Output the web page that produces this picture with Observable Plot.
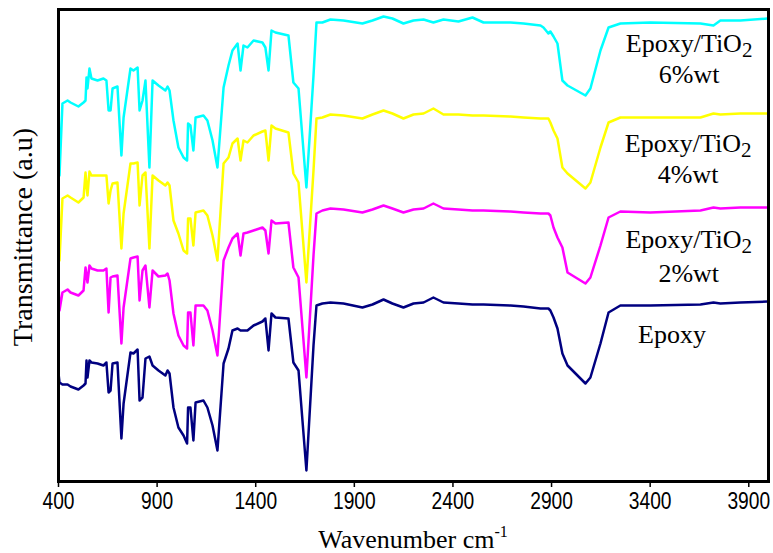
<!DOCTYPE html>
<html>
<head>
<meta charset="utf-8">
<script src="https://cdn.jsdelivr.net/npm/d3@7"></script>
<script src="https://cdn.jsdelivr.net/npm/@observablehq/plot@0.6"></script>
<style>
  html, body { margin: 0; padding: 0; background: white; }
</style>
</head>
<body>
<div id="chart"></div>
<script>
// Wavenumbers (cm^-1) shared by all spectra
const wavenumbers = [400,405,420,446,461,501,527,537,542,547,557,567,598,628,643,654,664,674,699,719,
  730,765,780,801,811,826,841,861,877,907,942,953,963,983,1008,1034,1052,1057,1069,1084,
  1095,1135,1155,1181,1206,1237,1262,1282,1308,1323,1338,1358,1389,1434,1449,1465,1480,1500,1566,1591,
  1617,1657,1693,1708,1738,1779,1845,1941,1992,2048,2093,2149,2200,2251,2301,2352,2428,2499,2555,2692,
  2758,2844,2859,2884,2894,2910,2930,2955,2981,3072,3097,3148,3189,3249,3401,3655,3721,3756,3857,3995];

// Transmittance (a.u., stacked) for each sample
const epoxy = [108,99,97,97,95,92,96,98,121,104,
  121,119,118,116,119,89,91,118,119,43,
  78,129,128,132,81,84,123,125,116,111,
  106,111,108,74,54,46,38,74,74,41,
  79,81,74,56,31,118,133,151,153,151,
  151,151,156,160,163,131,168,164,163,119,
  111,11,136,176,178,179,178,174,177,182,
  178,174,178,179,184,179,178,177,177,176,
  175,173,173,173,171,164,153,128,116,98,
  104,138,169,176,176,177,179,178,179,180];

const tio2_2 = [199,171,189,192,189,186,191,214,206,199,
  216,213,211,211,213,169,204,205,206,138,
  174,223,224,225,181,211,216,174,211,205,
  206,208,201,168,146,136,133,169,169,136,
  176,176,171,151,126,221,234,243,248,226,
  248,249,251,254,251,228,261,258,259,214,
  204,104,226,268,271,273,272,269,272,276,
  273,269,272,273,278,273,272,271,271,270,
  269,268,268,268,266,254,244,234,209,198,
  204,236,264,270,269,271,274,273,274,274];

const tio2_4 = [294,221,283,286,284,279,284,309,296,286,
  310,306,306,306,306,278,291,298,299,233,
  268,318,318,319,276,306,309,233,306,301,
  296,299,296,261,248,231,228,263,263,236,
  269,271,266,246,221,318,324,338,343,321,
  341,339,346,350,351,321,356,353,349,308,
  299,199,311,363,364,367,366,363,367,371,
  368,363,367,368,373,367,367,366,366,365,
  364,363,363,363,359,351,343,314,308,293,
  299,334,359,364,364,364,368,367,368,368];

const tio2_6 = [388,306,378,381,379,375,379,381,404,393,
  413,403,401,403,401,371,371,393,395,326,
  364,413,411,414,371,381,401,314,401,396,
  391,395,391,361,334,324,321,358,356,331,
  364,366,361,341,314,394,416,431,438,411,
  436,434,441,439,434,411,451,449,446,399,
  393,294,406,459,459,462,461,458,461,465,
  463,458,461,462,459,462,460,464,459,459,
  458,456,454,448,450,445,438,401,396,386,
  393,431,454,458,459,458,456,461,461,463];

const xTicks = [400,900,1400,1900,2400,2900,3400,3900];
const seriesNames = ["Epoxy", "Epoxy/TiO2 2%wt", "Epoxy/TiO2 4%wt", "Epoxy/TiO2 6%wt"];
const seriesColors = ["#000080", "#ff00ff", "#ffff00", "#00ffff"];
const seriesValues = [epoxy, tio2_2, tio2_4, tio2_6];

const rows = [];
seriesValues.forEach((vals, s) => {
  vals.forEach((v, i) => rows.push({series: seriesNames[s], wn: wavenumbers[i], t: v}));
});

const serif = "'Liberation Serif', 'Times New Roman', Times, serif";
const sans = "'Liberation Sans', Arial, sans-serif";

const plot = Plot.plot({
  width: 773,
  height: 553,
  marginLeft: 58,
  marginRight: 5,
  marginTop: 9,
  marginBottom: 72,
  style: {background: "white", overflow: "visible"},
  x: {domain: [400, 4000], label: null},
  y: {domain: [0, 472], axis: null},
  color: {domain: seriesNames, range: seriesColors},
  marks: [
    Plot.line(rows, {x: "wn", y: "t", z: "series", stroke: "series", strokeWidth: 2.5, strokeLinejoin: "round", curve: "linear"}),
    Plot.frame({stroke: "black", strokeWidth: 3}),
    Plot.axisX(xTicks, {tickSize: 6, tickPadding: 4, strokeWidth: 1.5, fontSize: 24, fontFamily: sans, fill: "black", tickFormat: d => String(d), label: null})
  ]
});

document.getElementById("chart").appendChild(plot);

// Condense the tick labels horizontally (narrow sans look)
d3.select(plot).selectAll('g[aria-label="x-axis tick label"] text').each(function () {
  const b = this.getBBox();
  const cx = b.x + b.width / 2;
  const tr = this.getAttribute("transform") || "";
  this.setAttribute("transform", `${tr} translate(${cx},0) scale(0.8,1) translate(${-cx},0)`);
});

const sx = plot.scale("x"), sy = plot.scale("y");
const svg = d3.select(plot);

// Series labels
const labelDefs = [
  {main: "Epoxy/TiO", sub: "2", second: "6%wt", x: 3600, y1: 429, y2: 398},
  {main: "Epoxy/TiO", sub: "2", second: "4%wt", x: 3595, y1: 329, y2: 298},
  {main: "Epoxy/TiO", sub: "2", second: "2%wt", x: 3598, y1: 233, y2: 199},
  {main: "Epoxy", sub: null, second: null, x: 3513, y1: 138, y2: null}
];
labelDefs.forEach(d => {
  const t = svg.append("text")
    .attr("x", sx.apply(d.x)).attr("y", sy.apply(d.y1))
    .attr("text-anchor", "middle")
    .style("font-family", serif).style("font-size", "26px").attr("fill", "black")
    .text(d.main);
  if (d.sub) t.append("tspan").attr("dy", 5).style("font-size", "21px").text(d.sub);
  if (d.second) {
    svg.append("text")
      .attr("x", sx.apply(d.x)).attr("y", sy.apply(d.y2))
      .attr("text-anchor", "middle")
      .style("font-family", serif).style("font-size", "26px").attr("fill", "black")
      .text(d.second);
  }
});

// X axis title
const xt = svg.append("text")
  .attr("x", (58 + 768) / 2).attr("y", 548)
  .attr("text-anchor", "middle")
  .style("font-family", serif).style("font-size", "26px").attr("fill", "black")
  .text("Wavenumber cm");
xt.append("tspan").attr("dy", -11).style("font-size", "16px").text("-1");

// Y axis title
svg.append("text")
  .attr("transform", "translate(32,237) rotate(-90)")
  .attr("text-anchor", "middle")
  .style("font-family", serif).style("font-size", "28px").attr("fill", "black")
  .text("Transmittance (a.u)");
</script>
</body>
</html>
